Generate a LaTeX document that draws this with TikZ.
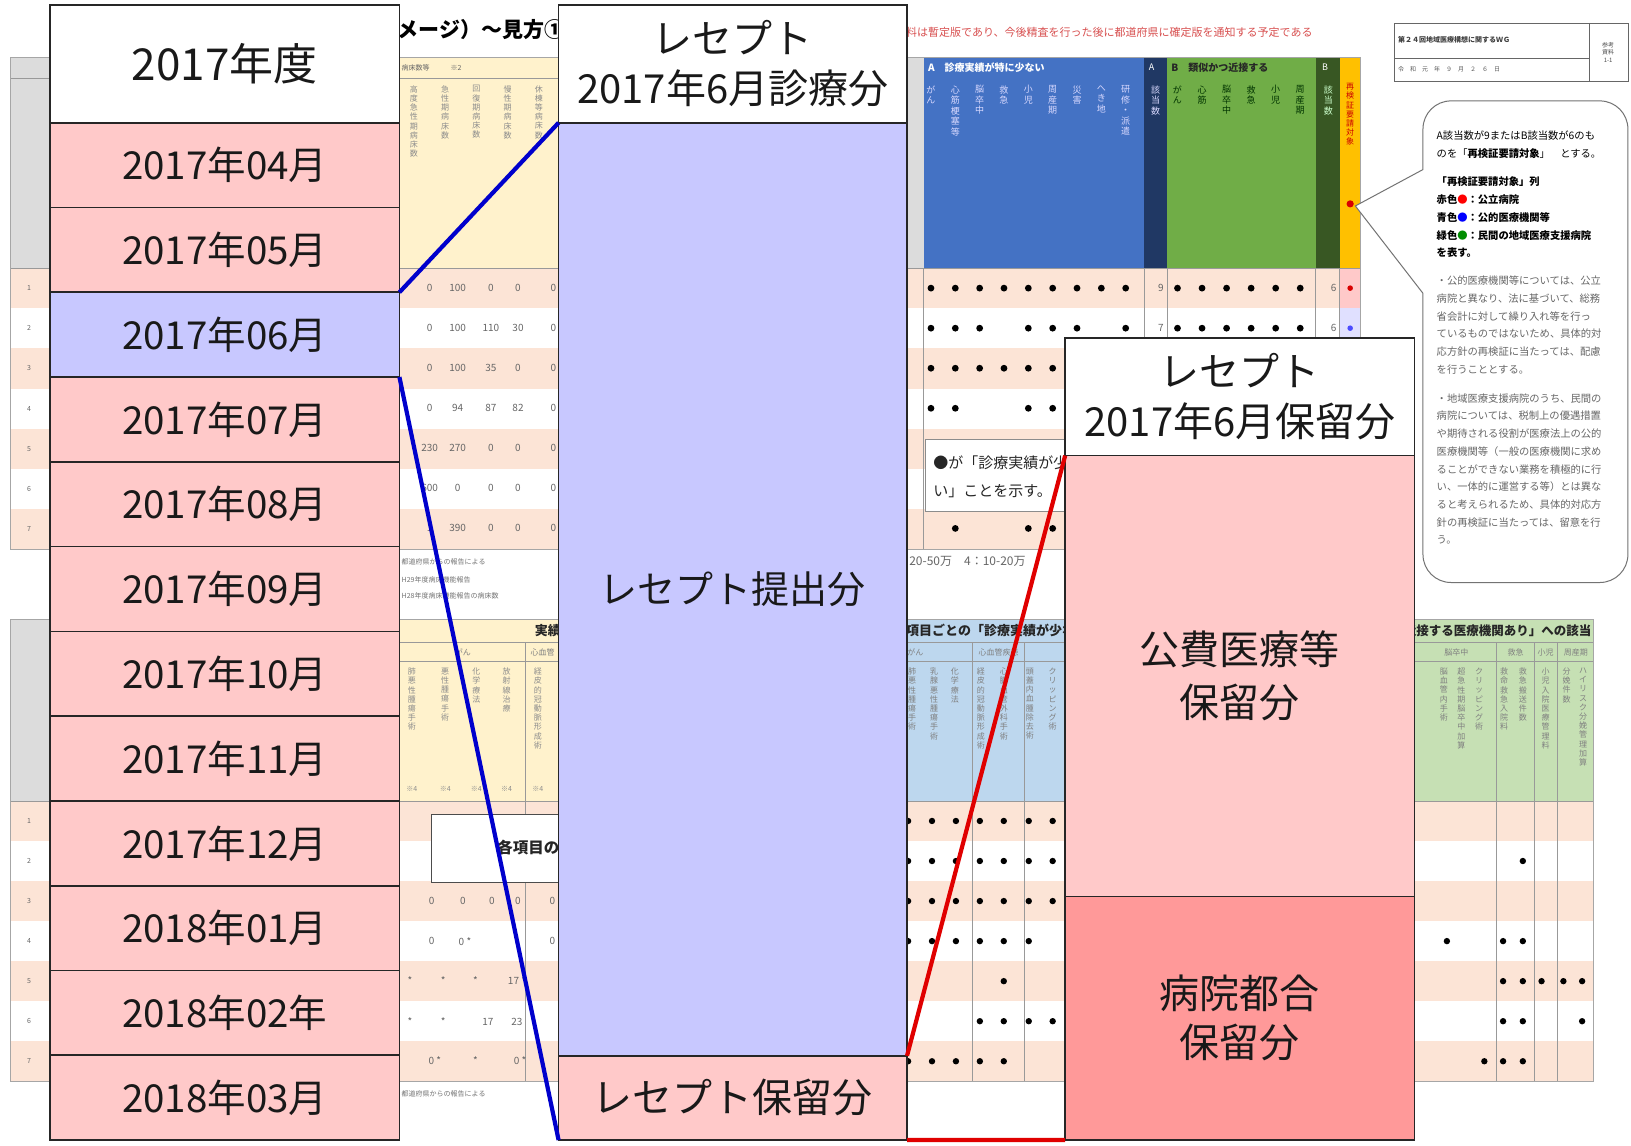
\documentclass[tikz,border=0pt]{standalone}
\usepackage{fontspec}
\setmainfont{Noto Sans CJK JP}
\usetikzlibrary{calc}
\newdimen\PX \PX=1.0402pt
\newcounter{bgn}
\newcommand\fs[2]{\fontsize{#1}{#2}\selectfont}
\ExplSyntaxOn
\tl_new:N \l_vt_text_tl
\NewDocumentCommand\VT{m}{\tl_set:Nx \l_vt_text_tl {#1}\parbox[t]{1.1em}{\centering\tl_map_inline:Nn \l_vt_text_tl {##1\par}}}
\ExplSyntaxOff
\definecolor{rowpink}{HTML}{FFC9C9}
\definecolor{lav}{HTML}{C8C8FF}
\definecolor{redbox}{HTML}{FF9999}
\definecolor{lineblue}{HTML}{0000CC}
\definecolor{linered}{HTML}{E00000}
\definecolor{hdrgray}{HTML}{DCDCDC}
\definecolor{ylw}{HTML}{FFF2CC}
\definecolor{xblue}{HTML}{4472C4}
\definecolor{navy}{HTML}{203864}
\definecolor{xgreen}{HTML}{70AD47}
\definecolor{dgreen}{HTML}{385723}
\definecolor{orng}{HTML}{FFC000}
\definecolor{peach}{HTML}{FCE4D6}
\definecolor{lblue}{HTML}{BDD7EE}
\definecolor{lgreen}{HTML}{C6E0B4}
\definecolor{notered}{HTML}{D85050}
\tikzset{
 bg/.style={/utils/exec={\stepcounter{bgn}}, name=bgt\arabic{bgn}, inner sep=0pt},
 cell/.style={draw=black!85, line width=1.6pt, inner sep=0pt, outer sep=0pt, anchor=north west, align=center, text=black!90},
 bline/.style={draw=lineblue, line width=4.2pt},
 rline/.style={draw=linered, line width=4.2pt},
 gridl/.style={draw=black!40, line width=0.7pt},
 tinyt/.style={bg, anchor=west, text=black!55, font=\fs{7}{8.5}},
 num/.style={bg, text=black!60, font=\fs{10}{12}},
 vt/.style={bg, anchor=north, font=\fs{9}{10.5}},
 btxt/.style={bg, anchor=west, font=\fs{10.3}{12}},
}
\begin{document}
\begin{tikzpicture}[x=1.0402pt, y=-1.0402pt]
\useasboundingbox (0,0) rectangle (1568,1101);
\fill[white] (0,0) rectangle (1568,1101);

% ---------- top titles ----------
\node[bg, anchor=west, font=\fs{21}{24}\bfseries] at (342,28) {（イメージ）〜見方①};
\node[bg, anchor=east, text=notered, font=\fs{11}{13}] at (1262,31) {本資料は暫定版であり、今後精査を行った後に都道府県に確定版を通知する予定である};
% document box top right
\draw[black!60, line width=0.7pt] (1340,22) rectangle (1565,78);
\draw[black!60, line width=0.7pt] (1340,56) -- (1528,56) (1528,22) -- (1528,78);
\node[bg, anchor=west, font=\fs{7}{8}\bfseries, text=black!75] at (1344,38) {第２４回地域医療構想に関するＷＧ};
\node[bg, anchor=west, font=\fs{6}{7}, text=black!65] at (1344,67) {令　和　元　年　９　月　２　６　日};
\node[bg, align=center, font=\fs{6}{7.5}, text=black!70] at (1546,50) {参考\\資料\\1-1};

% ---------- top table ----------
\fill[hdrgray] (10,55) rectangle (48,258);
\fill[ylw] (48,55) rectangle (872,258);
\fill[hdrgray] (872,55) rectangle (888,258);
\fill[xblue] (888,55) rectangle (1100,258);
\fill[navy] (1100,55) rectangle (1122,258);
\fill[xgreen] (1122,55) rectangle (1265,258);
\fill[dgreen] (1265,55) rectangle (1288,258);
\fill[orng] (1288,55) rectangle (1308,258);
\foreach \r in {0,2,4,6} \fill[peach] (10,{258+38.5*\r}) rectangle (1308,{258+38.5*(\r+1)});
\fill[rowpink] (1288,258) rectangle (1308,296.5);
\fill[blue!12] (1288,296.5) rectangle (1308,335);
\draw[gridl] (10,75) -- (872,75);
\draw[gridl] (10,258) -- (1308,258);
\foreach \xx in {888,1100,1122,1265,1288} \draw[gridl] (\xx,258) -- (\xx,528);
\draw[black!35, line width=0.8pt] (10,55) rectangle (1308,528);
% header labels
\node[bg, anchor=west, text=white, font=\fs{10}{12}\bfseries] at (892,65) {A　診療実績が特に少ない};
\node[bg, text=white, font=\fs{9}{10}] at (1107,65) {A};
\node[bg, anchor=west, text=black!85, font=\fs{10}{12}\bfseries] at (1126,65) {B　類似かつ近接する};
\node[bg, text=white, font=\fs{9}{10}] at (1274,65) {B};
\node[bg, anchor=west, text=black!60, font=\fs{7}{8}] at (386,65) {病床数等　　　※2};
\foreach \xx/\tx in {398/高度急性期病床数,428/急性期病床数,458/回復期病床数,488/慢性期病床数,518/休棟等病床数}
  \node[vt, text=black!45, font=\fs{8}{9.2}] at (\xx,82) {\VT{\tx}};
\foreach \k/\tx in {0/がん,1/心筋梗塞等,2/脳卒中,3/救急,4/小児,5/周産期,6/災害,7/へき地,8/研修・派遣}
  \node[vt, text=white!85!blue] at ({895+23.4*\k},82) {\VT{\tx}};
\node[vt, text=white!85!blue] at (1111,82) {\VT{該当数}};
\foreach \k/\tx in {0/がん,1/心筋,2/脳卒中,3/救急,4/小児,5/周産期}
  \node[vt, text=black!80!green] at ({1132+23.6*\k},82) {\VT{\tx}};
\node[vt, text=white!80!green] at (1277,82) {\VT{該当数}};
\node[vt, text=red!80!black, font=\fs{8}{9.2}] at (1298,80) {\VT{再検証要請対象}};
\fill[red!85!black] (1298,196) circle[radius=3.6pt];
% row numbers
\foreach \r in {1,...,7} \node[num, font=\fs{7}{8}] at (28,{277.25+38.5*(\r-1)}) {\r};
% yellow data
\foreach \y/\a/\b/\c/\d/\e in {277/0/100/0/0/0, 315.5/0/100/110/30/0, 354/0/100/35/0/0, 392.5/0/94/87/82/0, 431/230/270/0/0/0, 469.5/600/0/0/0/0, 508/1/390/0/0/0}{
  \node[num] at (413,\y) {\a}; \node[num] at (440,\y) {\b}; \node[num] at (472,\y) {\c};
  \node[num] at (498,\y) {\d}; \node[num] at (532,\y) {\e};}
% dots blue section
\foreach \y/\ks in {277/{0,1,2,3,4,5,6,7,8}, 315.5/{0,1,2,4,5,6,8}, 354/{0,1,2,3,4,5,6,7,8}, 392.5/{0,1,4,5,7,8}, 508/{1,4,5,7}}{
  \foreach \k in \ks \fill ({895+23.4*\k},\y) circle[radius=3.4pt];}
\foreach \y in {277,315.5,354} { \foreach \k in {0,...,5} \fill ({1132+23.6*\k},\y) circle[radius=3.4pt]; }
\node[num] at (1116,277) {9}; \node[num] at (1116,315.5) {7};
\node[num] at (1282,277) {6}; \node[num] at (1282,315.5) {6};
\fill[red!85!black] (1298,277) circle[radius=2.8pt];
\fill[blue!70] (1298,315.5) circle[radius=2.8pt];
% callout in table
\draw[black!45, fill=white, line width=0.8pt] (890,422) rectangle (1060,492);
\node[bg, anchor=west, font=\fs{15}{17}, text=black!85] at (897,445) {●が「診療実績が少な};
\node[bg, anchor=west, font=\fs{15}{17}, text=black!85] at (897,472) {い」ことを示す。};
% footnotes
\node[tinyt] at (386,540) {都道府県からの報告による};
\node[tinyt] at (386,557) {H29年度病床機能報告};
\node[tinyt] at (386,573) {H28年度病床機能報告の病床数};
\node[bg, anchor=west, font=\fs{12}{14}, text=black!60] at (874,540) {20-50万　4：10-20万};

% ---------- lower table ----------
\fill[hdrgray] (10,595) rectangle (48,770);
\fill[ylw] (48,595) rectangle (872,770);
\fill[lblue] (872,595) rectangle (1360,770);
\fill[lgreen] (1360,595) rectangle (1532,770);
\foreach \r in {0,2,4,6} \fill[peach] (10,{770+38.5*\r}) rectangle (1532,{770+38.5*(\r+1)});
\draw[gridl] (48,618) -- (1532,618);
\draw[gridl] (48,636) -- (1532,636);
\draw[gridl] (10,770) -- (1532,770);
\foreach \xx in {505,935,985,1439,1475,1497} \draw[gridl] (\xx,618) -- (\xx,1040);
\draw[black!35, line width=0.8pt] (10,595) rectangle (1532,1040);
\node[bg, anchor=west, font=\fs{13}{15}\bfseries, text=black!85] at (514,606) {実績};
\node[bg, anchor=west, font=\fs{13}{15}\bfseries, text=black!85] at (846,606) {診療項目ごとの「診療実績が少ない」への該当};
\node[bg, anchor=east, font=\fs{12.5}{15}\bfseries, text=black!85] at (1530,606) {「類似かつ近接する医療機関あり」への該当};
\node[bg, font=\fs{8}{9}, text=black!50] at (445,627) {がん};
\node[bg, anchor=west, font=\fs{8}{9}, text=black!50] at (510,627) {心血管};
\node[bg, font=\fs{8}{9}, text=black!50] at (880,627) {がん};
\node[bg, font=\fs{8}{9}, text=black!50] at (960,627) {心血管疾患};
\node[bg, font=\fs{8}{9}, text=black!50] at (1400,627) {脳卒中};
\node[bg, font=\fs{8}{9}, text=black!50] at (1457,627) {救急};
\node[bg, font=\fs{8}{9}, text=black!50] at (1486,627) {小児};
\node[bg, font=\fs{8}{9}, text=black!50] at (1515,627) {周産期};
\foreach \xx/\tx in {396/肺悪性腫瘍手術,428/悪性腫瘍手術,458/化学療法,487/放射線治療,517/経皮的冠動脈形成術}{
  \node[vt, text=black!45, font=\fs{8}{9.2}] at (\xx,642) {\VT{\tx}};
  \node[bg, text=black!45, font=\fs{7}{8}] at (\xx,758) {※4};}
\foreach \xx/\tx in {877/肺悪性腫瘍手術,898/乳腺悪性腫瘍手術,918/化学療法,943/経皮的冠動脈形成術,965/心臓血管外科手術,990/頭蓋内血腫除去術,1012/クリッピング術}
  \node[vt, text=black!50, font=\fs{8}{9.2}] at (\xx,642) {\VT{\tx}};
\foreach \xx/\tx in {1388/脳血管内手術,1405/超急性期脳卒中加算,1422/クリッピング術,1446/救命救急入院料,1464/救急搬送件数,1486/小児入院医療管理料,1506/分娩件数,1522/ハイリスク分娩管理加算}
  \node[vt, text=black!50, font=\fs{8}{9.2}] at (\xx,642) {\VT{\tx}};
\foreach \r in {1,...,7} \node[num, font=\fs{7}{8}] at (28,{789.25+38.5*(\r-1)}) {\r};
% lower yellow data
\foreach \xx/\y/\tx in {415/866/0, 445/866/0, 473/866/0, 498/866/0, 531/866/0,
  415/905/0, 447/905/0 *, 531/905/0,
  394/943/*, 426/943/*, 457/943/*, 497/943/17 *,
  394/982/*, 426/982/*, 469/982/17, 497/982/23,
  418/1020/0 *, 457/1020/*, 500/1020/0 *}
  \node[num] at (\xx,\y) {\tx};
\draw[black!70, fill=white, line width=0.9pt] (415,783) rectangle (560,848);
\node[bg, anchor=west, font=\fs{15.5}{18}\bfseries, text=black!85] at (478,815) {各項目の};
% lower blue dots
\foreach \y/\ks in {789.25/{873,896,919,942,965,989,1012}, 827.75/{873,896,919,942,965,989,1012}, 866.25/{873,896,919,942,965,989,1012}, 904.75/{873,896,919,942,965,989}, 943.25/{965}, 981.75/{942,965,989,1012}, 1020.25/{873,896,919,942,965}}{
  \foreach \xx in \ks \fill (\xx,\y) circle[radius=3.2pt];}
% lower green dots
\foreach \y/\ks in {827.75/{1464}, 904.75/{1391,1445,1464}, 943.25/{1445,1464,1482,1503,1521}, 981.75/{1445,1464,1521}, 1020.25/{1427,1445,1464}}{
  \foreach \xx in \ks \fill (\xx,\y) circle[radius=3.2pt];}
\node[tinyt] at (386,1052) {都道府県からの報告による};

% ---------- speech bubble ----------
\draw[black!55, fill=white, line width=1pt] (1368,282) -- (1303,198) -- (1368,163) [rounded corners=28pt] -- (1368,97) -- (1565,97) -- (1565,560) -- (1368,560) [sharp corners] -- cycle;
\node[btxt] at (1381,130) {A該当数が9またはB該当数が6のも};
\node[btxt] at (1381,148) {のを「\textbf{再検証要請対象}」　とする。};
\node[btxt, font=\fs{10.3}{12}\bfseries] at (1381,175) {「再検証要請対象」列};
\node[btxt, font=\fs{10.3}{12}\bfseries] at (1381,192) {赤色\textcolor{red}{●}：公立病院};
\node[btxt, font=\fs{10.3}{12}\bfseries] at (1381,209) {青色\textcolor{blue}{●}：公的医療機関等};
\node[btxt, font=\fs{10.3}{12}\bfseries] at (1381,226) {緑色\textcolor{green!55!black}{●}：民間の地域医療支援病院};
\node[btxt, font=\fs{10.3}{12}\bfseries] at (1381,243) {を表す。};
\foreach \tx [count=\i from 0] in {・公的医療機関等については、公立,病院と異なり、法に基づいて、総務,省会計に対して繰り入れ等を行っ,ているものではないため、具体的対,応方針の再検証に当たっては、配慮,を行うこととする。}
  \node[btxt, text=black!60] at (1381,{270+17*\i}) {\tx};
\foreach \tx [count=\i from 0] in {・地域医療支援病院のうち、民間の,病院については、税制上の優遇措置,や期待される役割が医療法上の公的,医療機関等（一般の医療機関に求め,ることができない業務を積極的に行,い、一体的に運営する等）とは異な,ると考えられるため、具体的対応方,針の再検証に当たっては、留意を行,う。}
  \node[btxt, text=black!60] at (1381,{383+17*\i}) {\tx};

% ---------- main overlay: left column ----------
\node[cell, fill=white, minimum width=336\PX, minimum height=113\PX, font=\fs{44}{50}] (yr) at (48,5) {2017年度};
\foreach \lab/\nm/\fc [count=\i from 0] in {2017年04月/m1704/rowpink, 2017年05月/m1705/rowpink, 2017年06月/m1706/lav, 2017年07月/m1707/rowpink, 2017年08月/m1708/rowpink, 2017年09月/m1709/rowpink, 2017年10月/m1710/rowpink, 2017年11月/m1711/rowpink, 2017年12月/m1712/rowpink, 2018年01月/m1801/rowpink, 2018年02年/m1802/rowpink, 2018年03月/m1803/rowpink}
  \node[cell, fill=\fc, minimum width=336\PX, minimum height=81.5\PX, font=\fs{38.5}{46}] (\nm) at (48,{118+81.5*\i}) {\lab};

% ---------- middle column ----------
\node[cell, fill=white, minimum width=335\PX, minimum height=113\PX, font=\fs{40}{50}] (mh) at (537,5) {レセプト\\2017年6月診療分};
\node[cell, fill=lav, minimum width=335\PX, minimum height=897\PX, font=\fs{38}{46}] (mb) at (537,118) {レセプト提出分};
\node[cell, fill=rowpink, minimum width=335\PX, minimum height=81\PX, font=\fs{40}{46}] (mp) at (537,1015) {レセプト保留分};

% ---------- right column ----------
\node[cell, fill=white, minimum width=336\PX, minimum height=113\PX, font=\fs{40}{50}] (rh) at (1024,325) {レセプト\\2017年6月保留分};
\node[cell, fill=rowpink, minimum width=336\PX, minimum height=424\PX, font=\fs{40}{53}] (rp) at (1024,438) {公費医療等\\保留分};
\node[cell, fill=redbox, minimum width=336\PX, minimum height=234\PX, font=\fs{40}{49}] (rr) at (1024,862) {病院都合\\保留分};

% ---------- connectors ----------
\draw[bline] (m1705.south east) -- (mh.south west);
\draw[bline] (m1706.south east) -- (mp.south west);
\draw[rline] (mb.south east) -- (rh.south west);
\draw[rline] (mp.south east) -- (rr.south west);
\end{tikzpicture}
\end{document}
